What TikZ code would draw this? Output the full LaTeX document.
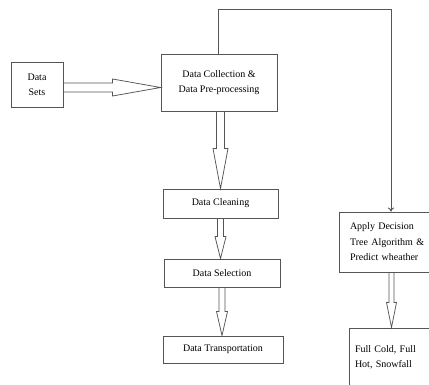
\documentclass[tikz,border=0pt]{standalone}
\usepackage{fontspec}
\setmainfont{Liberation Serif}
\usetikzlibrary{calc,arrows.meta}
\definecolor{ln}{HTML}{555555}
\tikzset{
  box/.style={draw=ln, line width=0.9pt, inner sep=0pt, font=\fontsize{10}{15}\selectfont, align=center, text=black},
  hollow/.style n args={3}{draw=ln, line width=0.75pt, to path={
    ($(\tikztostart)!#1!90:(\tikztotarget)$) --
    ($($(\tikztotarget)!#3!(\tikztostart)$)!#1!90:(\tikztotarget)$) --
    ($($(\tikztotarget)!#3!(\tikztostart)$)!#2!90:(\tikztotarget)$) --
    (\tikztotarget) --
    ($($(\tikztotarget)!#3!(\tikztostart)$)!#2!-90:(\tikztotarget)$) --
    ($($(\tikztotarget)!#3!(\tikztostart)$)!#1!-90:(\tikztotarget)$) --
    ($(\tikztostart)!#1!-90:(\tikztotarget)$)
  }},
  link/.style={draw=ln, line width=0.9pt}
}
\begin{document}
\begin{tikzpicture}[x=1pt,y=-1pt]
\clip (0,0) rectangle (429,385);
\fill[white] (0,0) rectangle (429,385);

\node[box, minimum width=52, minimum height=45] (ds) at (37,84.5) {Data\\Sets};
\node[box, minimum width=116, minimum height=57] (dc) at (219,82.5) {Data Collection \&\\Data Pre-processing};
\node[box, minimum width=115, minimum height=29] (clean) at (220.5,203.5) {Data Cleaning};
\node[box, minimum width=116, minimum height=28] (sel) at (222,273) {Data Selection};
\node[box, minimum width=120, minimum height=27] (trans) at (223,349.5) {Data Transportation};
\node[box, minimum width=100, minimum height=60, text width=78, align=left, font=\fontsize{10}{15.5}\selectfont] (apply) at (389,242) {Apply Decision\\Tree Algorithm \&\\Predict wheather};
\node[box, minimum width=90, minimum height=58, text width=78, align=left] (full) at (394,357) {Full Cold, Full\\Hot, Snowfall};

\coordinate (hy) at (0,87.5);
\coordinate (rx) at (391.5,0);
\coordinate (lx) at (218,0);
\coordinate (top) at (391,9.3);

\path[hollow={4.5pt}{8.5pt}{48pt}] (ds.east |- hy) to (dc.west |- hy);
\path[hollow={4pt}{7.5pt}{40pt}] (dc.south -| clean.north) to (clean.north);
\path[hollow={3pt}{5.5pt}{22pt}] (clean.south) to (clean.south |- sel.north);
\path[hollow={3pt}{5.5pt}{24pt}] (sel.south) to (sel.south |- trans.north);
\path[hollow={2.5pt}{5pt}{25pt}] (apply.south -| rx) to (full.north -| rx);

\draw[link, -{To[length=4pt,width=6pt]}] (dc.north -| lx) |- (top) -- (apply.north -| top);
\end{tikzpicture}
\end{document}
